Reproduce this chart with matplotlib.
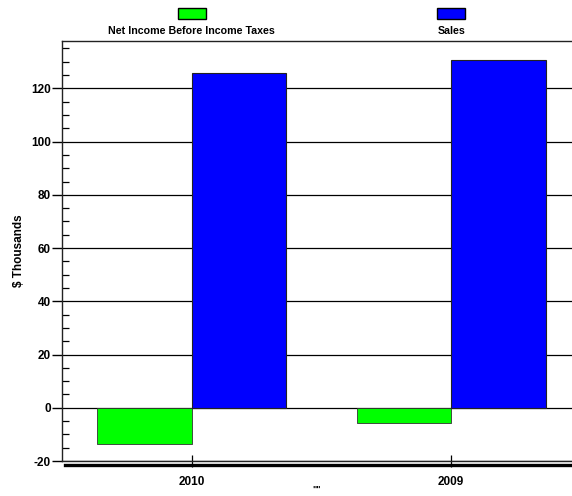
import matplotlib
matplotlib.use("Agg")
import matplotlib.pyplot as plt
import matplotlib.transforms as mtransforms
from matplotlib.patches import Rectangle
from matplotlib.ticker import MultipleLocator

plt.rcParams['font.family'] = ['Liberation Sans', 'DejaVu Sans']
plt.rcParams['font.weight'] = 'bold'
plt.rcParams['axes.unicode_minus'] = False

# data
years = ["2010", "2009"]
series_names = ["Net Income Before Income Taxes", "Sales"]
net_income = [-13.7, -5.6]
sales = [125.9, 130.6]
colours = ["#00ff00", "#0000ff"]

fig = plt.figure(figsize=(5.72, 4.96), dpi=100)
# axes run a little past the right edge, like the cropped original
ax = fig.add_axes([62 / 572, 1 - 461 / 496, 519 / 572, 420 / 496])

x = list(range(len(years)))
w = 0.365
ax.bar([i - w / 2 for i in x], net_income, width=w, color=colours[0],
       edgecolor="#333333", linewidth=0.6, zorder=3)
ax.bar([i + w / 2 for i in x], sales, width=w, color=colours[1],
       edgecolor="#222222", linewidth=0.8, zorder=3)

ax.set_xlim(-0.5, 1.5)
ax.set_ylim(-20, 137.8)
ax.yaxis.set_major_locator(MultipleLocator(20))
ax.yaxis.set_minor_locator(MultipleLocator(5))
ax.yaxis.grid(True, which="major", color="black", linewidth=0.9, zorder=1)
ax.set_axisbelow(True)

ax.set_xticks(x)
ax.set_xticklabels(years, fontsize=8.5, fontweight="bold")
ax.tick_params(axis="x", direction="inout", length=9, width=0.9, pad=6)
ax.tick_params(axis="y", which="major", direction="out", length=7, width=1, labelsize=8.5, pad=1)
ax.tick_params(axis="y", which="minor", direction="in", length=5, width=0.9)
for lab in ax.get_yticklabels():
    lab.set_fontweight("bold")

for s in ["left", "bottom", "top", "right"]:
    ax.spines[s].set_color("#222222")
    ax.spines[s].set_linewidth(1.0)

ax.set_ylabel("$ Thousands", fontsize=8.5, fontweight="bold", labelpad=4)
# category axis title is just "" in the original
fig.text(317 / 572, 1 - 489 / 496, '""', ha="center", va="center", fontsize=6.5, fontweight="bold")

# shadow line under the x axis
fig.add_artist(plt.Line2D([65 / 572, 1.0], [1 - 465 / 496] * 2, color="black",
                          linewidth=2.4, transform=fig.transFigure))

# legend: swatch above its label, centered over each category
trans = mtransforms.blended_transform_factory(ax.transData, fig.transFigure)
for i, (name, col) in enumerate(zip(series_names, colours)):
    pw = 28 / 259.5
    ax.add_patch(Rectangle((x[i] - pw / 2, 1 - 19 / 496), pw, 11 / 496, transform=trans,
                           facecolor=col, edgecolor="black", linewidth=1.0, clip_on=False))
    ax.text(x[i], 1 - 30.5 / 496, name, transform=trans, ha="center", va="center",
            fontsize=7.7, fontweight="bold")

fig.savefig("out.png", dpi=100)
